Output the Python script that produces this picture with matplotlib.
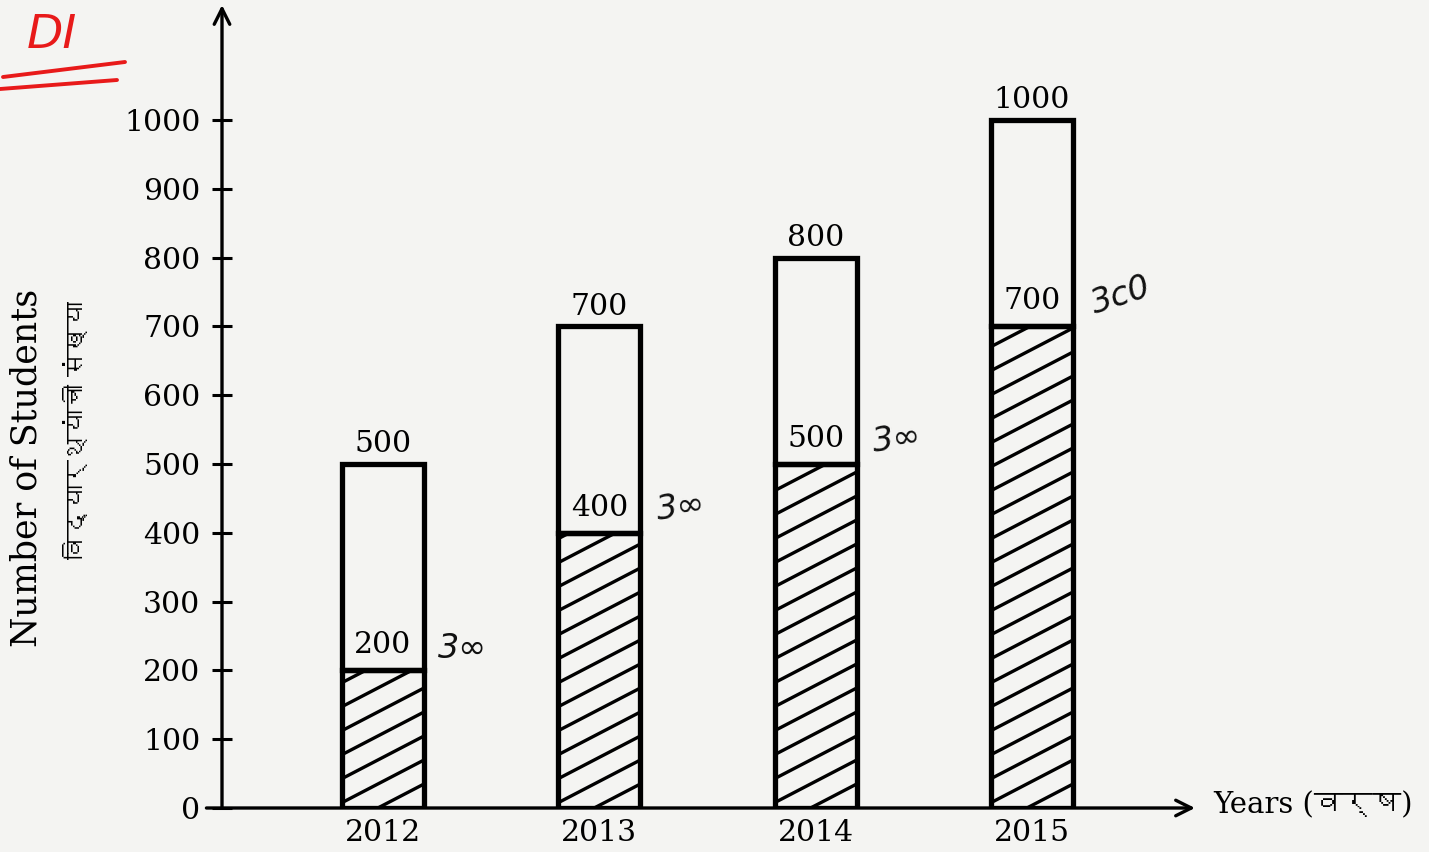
import numpy as np
import matplotlib
matplotlib.use("Agg")
import matplotlib.pyplot as plt
from matplotlib import font_manager
from matplotlib.ft2font import FT2Font
from matplotlib.collections import LineCollection
from matplotlib.lines import Line2D

# ---------------- data ----------------
years = ["2012", "2013", "2014", "2015"]
hatched_part = [200, 400, 500, 700]
total = [500, 700, 800, 1000]
handwritten = ["3\u221e", "3\u221e", "3\u221e", "3c0"]   # handwritten "300" notes
y_ticks = [0, 100, 200, 300, 400, 500, 600, 700, 800, 900, 1000]

# ---------------- fonts ----------------
def find_deva():
    seen = set()
    for f in font_manager.fontManager.ttflist:
        if f.name in seen:
            continue
        seen.add(f.name)
        try:
            cm = FT2Font(f.fname).get_charmap()
            if 0x0935 in cm:
                return f.name
        except Exception:
            pass
    return None

deva = find_deva()
serif = ["DejaVu Serif"] + ([deva] if deva else [])

PAPER = "#f4f4f2"
fig = plt.figure(figsize=(14.29, 8.52), dpi=100, facecolor=PAPER)
W, H = 1429, 852
L, R, B, T = 222, 1195, 808, 5
ax = fig.add_axes([L / W, (H - B) / H, (R - L) / W, (B - T) / H])
ax.set_facecolor(PAPER)

x = np.arange(len(years))
px_per_x = 216.35
ax.set_xlim((L - 383) / px_per_x, (R - 383) / px_per_x)
ax.set_ylim(0, (B - T) / 0.688)
for s in ax.spines.values():
    s.set_visible(False)

# axes with arrows
ax.annotate("", xy=(0, 1), xytext=(0, 0), xycoords="axes fraction",
            arrowprops=dict(arrowstyle="->", lw=2.4, color="black", mutation_scale=28,
                            shrinkA=0, shrinkB=0))
ax.annotate("", xy=(1, 0), xytext=(-0.016, 0), xycoords="axes fraction",
            arrowprops=dict(arrowstyle="->", lw=2.4, color="black", mutation_scale=28,
                            shrinkA=0, shrinkB=0))

bw = 0.379
lw_bar = 3.8
bottom_bars = ax.bar(x, hatched_part, width=bw, facecolor="none", edgecolor="black",
                     linewidth=lw_bar, zorder=3)
upper = [t - h for t, h in zip(total, hatched_part)]
ax.bar(x, upper, bottom=hatched_part, width=bw, facecolor="none", edgecolor="black",
       linewidth=lw_bar, zorder=3)

# custom slanted hatching (slope ~0.5 in pixels) clipped to hatched bars
trans = ax.transData
p0 = trans.transform((0, 0))
p1 = trans.transform((1, 100))
sx = p1[0] - p0[0]          # px per x unit
sy = (p1[1] - p0[1]) / 100  # px per y unit
slope_data = 0.52 * sx / sy
spacing = 24 / sy
for rect in bottom_bars:
    x0 = rect.get_x()
    x1 = x0 + rect.get_width()
    h = rect.get_height()
    segs = []
    c = -slope_data * (x1 - x0)
    while c < h + spacing:
        segs.append([(x0, c), (x1, c + slope_data * (x1 - x0))])
        c += spacing
    lc = LineCollection(segs, colors="black", linewidths=2.4, zorder=2)
    ax.add_collection(lc)
    lc.set_clip_path(rect)

# labels on bars
fs = 21.5
for xi, t, hp in zip(x, total, hatched_part):
    ax.annotate(str(t), xy=(xi, t), xytext=(0, 4), textcoords="offset points",
                ha="center", va="bottom", fontsize=fs, family=serif, zorder=4)
    ax.annotate(str(hp), xy=(xi, hp), xytext=(0, 8), textcoords="offset points",
                ha="center", va="bottom", fontsize=fs, family=serif, zorder=4)

# handwritten notes
rots = [0, 8, 8, 18]
for xi, hp, note, r in zip(x, hatched_part, handwritten, rots):
    ax.annotate(note, xy=(xi + bw / 2, hp), xytext=(10, 4), textcoords="offset points",
                ha="left", va="bottom", fontsize=24, family="DejaVu Sans",
                fontstyle="italic", rotation=r, color="#111111")

# ticks
ax.set_yticks(y_ticks)
ax.set_yticklabels([str(v) for v in y_ticks], fontsize=fs, family=serif)
ax.tick_params(axis="y", direction="inout", length=15, width=2.2, pad=8)
ax.set_xticks(x)
ax.set_xticklabels(years, fontsize=fs, family=serif)
ax.tick_params(axis="x", length=0, pad=8)

# axis titles
fig.text(27 / W, 1 - 468 / H, "Number of Students", rotation=90, ha="center", va="center",
         fontsize=25, family=serif)
fig.text(78 / W, 1 - 430 / H, "विद्यार्थ्यांची संख्या", rotation=90, ha="center", va="center",
         fontsize=18, family=serif)
fig.text(1213 / W, 1 - 805 / H, "Years (वर्ष)", ha="left", va="center",
         fontsize=21, family=serif)

# red handwritten "DI" with underlines
fig.text(52 / W, 1 - 36 / H, "DI", color="#e81a1a", fontsize=34, ha="center", va="center",
         family="DejaVu Sans", fontstyle="italic")
fig.add_artist(Line2D([3 / W, 125 / W], [1 - 77 / H, 1 - 62 / H], color="#e81a1a", lw=2.8,
                      solid_capstyle="round"))
fig.add_artist(Line2D([0 / W, 117 / W], [1 - 89 / H, 1 - 80 / H], color="#e81a1a", lw=2.8,
                      solid_capstyle="round"))

fig.savefig("out.png", dpi=100, facecolor=PAPER)
